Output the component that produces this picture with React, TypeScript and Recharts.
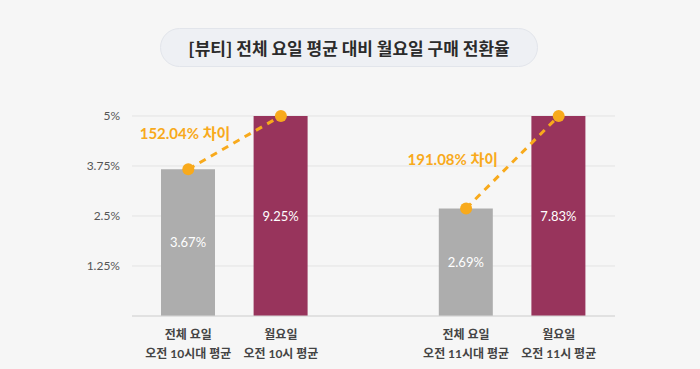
import {
  ComposedChart,
  Bar,
  Cell,
  Line,
  XAxis,
  YAxis,
  CartesianGrid,
  LabelList,
} from "recharts";

const FONT = "Lato, 'Noto Sans CJK KR', 'Noto Sans', sans-serif";

// categories (empty middle slot separates the two groups)
const categories = [
  "전체 요일\n오전 10시대 평균",
  "월요일\n오전 10시 평균",
  "",
  "전체 요일\n오전 11시대 평균",
  "월요일\n오전 11시 평균",
];
const rates = [3.67, 9.25, null, 2.69, 7.83];
const isMonday = [false, true, false, false, true];
const diffLabels = ["152.04% 차이", null, null, "191.08% 차이", null];
const yTicks = [1.25, 2.5, 3.75, 5];
const Y_MAX = 5;

const GRAY = "#adadad";
const MAROON = "#98345c";
const ORANGE = "#f8aa1c";

// label offsets from the gray dot (layout only)
const diffOffsets: Record<number, { dx: number; dy: number }> = {
  0: { dx: 42, dy: -30 },
  3: { dx: 32, dy: -43 },
};

const data = categories.map((name, i) => ({
  name,
  actual: rates[i],
  shown: rates[i] == null ? null : Math.min(rates[i] as number, Y_MAX),
  monday: isMonday[i],
  diff: diffLabels[i],
}));

const XTick = ({ x, y, payload }: any) => {
  if (!payload.value) return null;
  const lines = String(payload.value).split("\n");
  return (
    <text
      x={x}
      y={y}
      textAnchor="middle"
      fill="#444"
      fontSize={12}
      fontWeight={700}
      fontFamily={FONT}
    >
      {lines.map((l, i) => (
        <tspan key={i} x={x} dy={i === 0 ? 15 : 19}>
          {l}
        </tspan>
      ))}
    </text>
  );
};

const DiffLabel = ({ x, y, index }: any) => {
  const text = diffLabels[index];
  if (!text) return null;
  const off = diffOffsets[index];
  return (
    <text
      x={x + off.dx}
      y={y + off.dy}
      textAnchor="end"
      fill={ORANGE}
      fontSize={15}
      fontWeight={700}
      fontFamily={FONT}
    >
      {text}
    </text>
  );
};

export default function App() {
  return (
    <div
      style={{
        position: "fixed",
        left: 0,
        top: 0,
        width: 700,
        height: 369,
        background: "#f6f6f6",
        fontFamily: FONT,
      }}
    >
      <div
        style={{
          position: "absolute",
          left: 160,
          top: 28,
          width: 378,
          height: 39,
          borderRadius: 20,
          background: "#eef0f4",
          border: "1px solid #e2e5eb",
          boxSizing: "border-box",
          display: "flex",
          alignItems: "center",
          justifyContent: "center",
          fontSize: 17,
          fontWeight: 700,
          color: "#2b2b2b",
          fontFamily: "'Noto Sans CJK KR', sans-serif",
        }}
      >
        [뷰티] 전체 요일 평균 대비 월요일 구매 전환율
      </div>
      <div style={{ position: "absolute", left: 0, top: 0 }}>
        <ComposedChart
          width={700}
          height={369}
          data={data}
          margin={{ top: 116, right: 85, bottom: 0, left: 0 }}
        >
          <CartesianGrid vertical={false} stroke="#e3e3e3" />
          <XAxis
            dataKey="name"
            interval={0}
            height={53}
            padding={{ left: 10, right: 10 }}
            axisLine={{ stroke: "#d6d6d6" }}
            tickLine={false}
            tick={<XTick />}
          />
          <YAxis
            width={132}
            domain={[0, Y_MAX]}
            ticks={yTicks}
            axisLine={false}
            tickLine={false}
            tickMargin={6}
            tick={{ fontSize: 12, fill: "#555", fontFamily: FONT }}
            tickFormatter={(v: number) => `${v}%`}
          />
          <Bar dataKey="shown" barSize={54} isAnimationActive={false}>
            {data.map((d, i) => (
              <Cell key={i} fill={d.monday ? MAROON : GRAY} />
            ))}
            <LabelList
              dataKey="actual"
              position="center"
              fill="#fff"
              fontSize={13}
              fontFamily={FONT}
              formatter={(v: any) => (v == null ? "" : `${v}%`)}
            />
          </Bar>
          <Line
            dataKey="shown"
            stroke={ORANGE}
            strokeWidth={3}
            strokeDasharray="7 6"
            dot={{ r: 6, fill: ORANGE, stroke: "none" }}
            activeDot={false}
            isAnimationActive={false}
          >
            <LabelList dataKey="shown" content={<DiffLabel />} />
          </Line>
        </ComposedChart>
      </div>
    </div>
  );
}
